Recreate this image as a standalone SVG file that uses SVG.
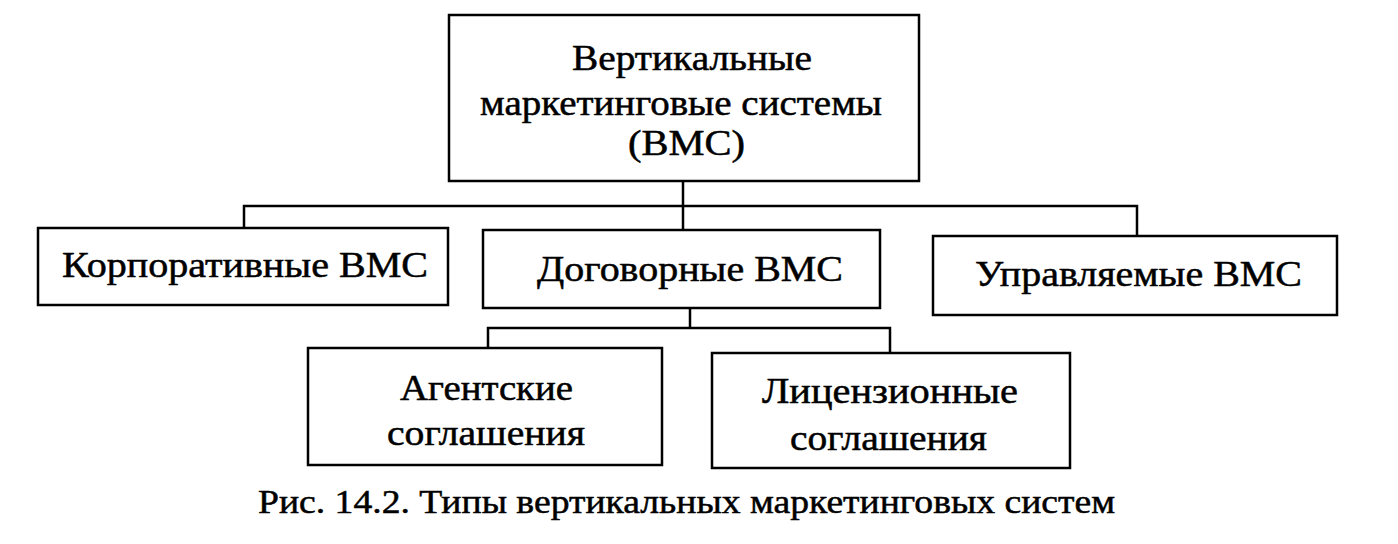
<svg xmlns="http://www.w3.org/2000/svg" width="1398" height="544" viewBox="0 0 1398 544">
<style>
.box{fill:#fff;stroke:#000;stroke-width:2.5}
.ln{fill:none;stroke:#000;stroke-width:2.5}
text{font-family:"Liberation Serif","Times New Roman",serif;font-size:35px;fill:#000;stroke:#000;stroke-width:0.5}
.cap{font-size:34px}
</style>
<rect width="1398" height="544" fill="#fff"/>
<g id="connectors">
<path class="ln" d="M683,181 V230"/>
<path class="ln" d="M244,228 V206 H1137 V236"/>
<path class="ln" d="M690,308 V328"/>
<path class="ln" d="M488,348 V328 H890 V353"/>
</g>
<g id="root">
<rect class="box" x="449" y="15" width="470" height="166"/>
<text x="572" y="70" textLength="240" lengthAdjust="spacingAndGlyphs">Вертикальные</text>
<text x="480" y="115" textLength="402" lengthAdjust="spacingAndGlyphs">маркетинговые системы</text>
<text x="628" y="155" textLength="117" lengthAdjust="spacingAndGlyphs">(ВМС)</text>
</g>
<g id="corp">
<rect class="box" x="38" y="228" width="410" height="77"/>
<text x="62" y="277" textLength="366" lengthAdjust="spacingAndGlyphs">Корпоративные ВМС</text>
</g>
<g id="contract">
<rect class="box" x="483" y="230" width="397" height="78"/>
<text x="537" y="281" textLength="306" lengthAdjust="spacingAndGlyphs">Договорные ВМС</text>
</g>
<g id="managed">
<rect class="box" x="933" y="236" width="404" height="79"/>
<text x="975" y="286" textLength="327" lengthAdjust="spacingAndGlyphs">Управляемые ВМС</text>
</g>
<g id="agent">
<rect class="box" x="308" y="348" width="354" height="117"/>
<text x="400" y="400" textLength="173" lengthAdjust="spacingAndGlyphs">Агентские</text>
<text x="387" y="445" textLength="198" lengthAdjust="spacingAndGlyphs">соглашения</text>
</g>
<g id="license">
<rect class="box" x="712" y="353" width="358" height="115"/>
<text x="762" y="403" textLength="256" lengthAdjust="spacingAndGlyphs">Лицензионные</text>
<text x="790" y="450" textLength="197" lengthAdjust="spacingAndGlyphs">соглашения</text>
</g>
<text class="cap" x="258" y="513" textLength="857" lengthAdjust="spacingAndGlyphs">Рис. 14.2. Типы вертикальных маркетинговых систем</text>
</svg>
